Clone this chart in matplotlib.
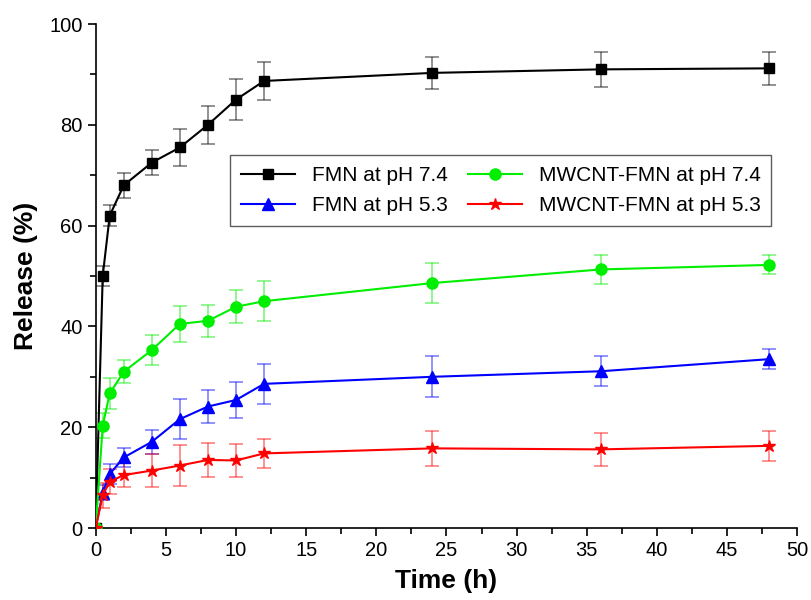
import matplotlib
matplotlib.use("Agg")
import matplotlib.pyplot as plt
from matplotlib.ticker import MultipleLocator

plt.rcParams['font.family'] = ['Liberation Sans', 'DejaVu Sans']

time = [0, 0.5, 1, 2, 4, 6, 8, 10, 12, 24, 36, 48]

fmn74 = [0, 50.0, 62.0, 68.0, 72.5, 75.5, 80.0, 85.0, 88.7, 90.3, 91.0, 91.2]
fmn74_err = [0, 2.0, 2.0, 2.5, 2.5, 3.7, 3.8, 4.0, 3.7, 3.2, 3.5, 3.3]

mw74 = [0, 20.3, 26.7, 31.0, 35.3, 40.5, 41.1, 43.9, 45.0, 48.6, 51.3, 52.2]
mw74_err = [0, 2.5, 3.0, 2.3, 3.0, 3.5, 3.2, 3.3, 4.0, 4.0, 2.8, 1.9]

fmn53 = [0, 7.0, 10.7, 14.0, 17.1, 21.6, 24.1, 25.4, 28.6, 30.0, 31.1, 33.5]
fmn53_err = [0, 1.5, 2.0, 1.8, 2.4, 4.0, 3.3, 3.5, 4.0, 4.1, 3.0, 2.0]

mw53 = [0, 6.5, 9.2, 10.5, 11.4, 12.4, 13.5, 13.4, 14.8, 15.8, 15.6, 16.3]
mw53_err = [0, 2.5, 2.5, 2.3, 3.2, 4.0, 3.3, 3.3, 2.8, 3.4, 3.3, 3.0]

labels = ['FMN at pH 7.4', 'FMN at pH 5.3', 'MWCNT-FMN at pH 7.4', 'MWCNT-FMN at pH 5.3']

fig = plt.figure(figsize=(8.11, 6.0), dpi=100)
ax = fig.add_axes([0.118, 0.12, 0.865, 0.84])

series = [
    (fmn74, fmn74_err, '#000000', 's', 7, labels[0]),
    (fmn53, fmn53_err, '#0000ff', '^', 8, labels[1]),
    (mw74, mw74_err, '#00ee00', 'o', 8, labels[2]),
    (mw53, mw53_err, '#ff0000', '*', 9, labels[3]),
]
handles = []
for vals, err, col, mk, ms, lab in series:
    ax.errorbar(time, vals, yerr=err, fmt='none', ecolor=col, alpha=0.5,
                elinewidth=1.2, capsize=5, capthick=1.2, zorder=2)
    h, = ax.plot(time, vals, color=col, marker=mk, markersize=ms, lw=1.5,
                 label=lab, zorder=3)
    handles.append(h)

ax.set_xlim(0, 50)
ax.set_ylim(0, 100)
ax.xaxis.set_major_locator(MultipleLocator(5))
ax.xaxis.set_minor_locator(MultipleLocator(2.5))
ax.yaxis.set_major_locator(MultipleLocator(20))
ax.yaxis.set_minor_locator(MultipleLocator(10))
ax.tick_params(which='both', direction='out', width=1.2, labelsize=14.5)
ax.tick_params(which='major', length=6)
ax.tick_params(which='minor', length=4)
for s in ['top', 'right']:
    ax.spines[s].set_visible(False)
for s in ['left', 'bottom']:
    ax.spines[s].set_linewidth(1.2)

ax.set_xlabel('Time (h)', fontsize=19, fontweight='bold', labelpad=6)
ax.set_ylabel('Release (%)', fontsize=19, fontweight='bold', labelpad=8)

leg = ax.legend(handles=handles, ncol=2, loc='upper left',
                bbox_to_anchor=(0.177, 0.76), fontsize=15, frameon=True,
                fancybox=False, edgecolor='#333333', columnspacing=1.0,
                handlelength=2.6, borderpad=0.5, labelspacing=0.55)
leg.get_frame().set_linewidth(1.0)

fig.savefig('out.png', dpi=100)
